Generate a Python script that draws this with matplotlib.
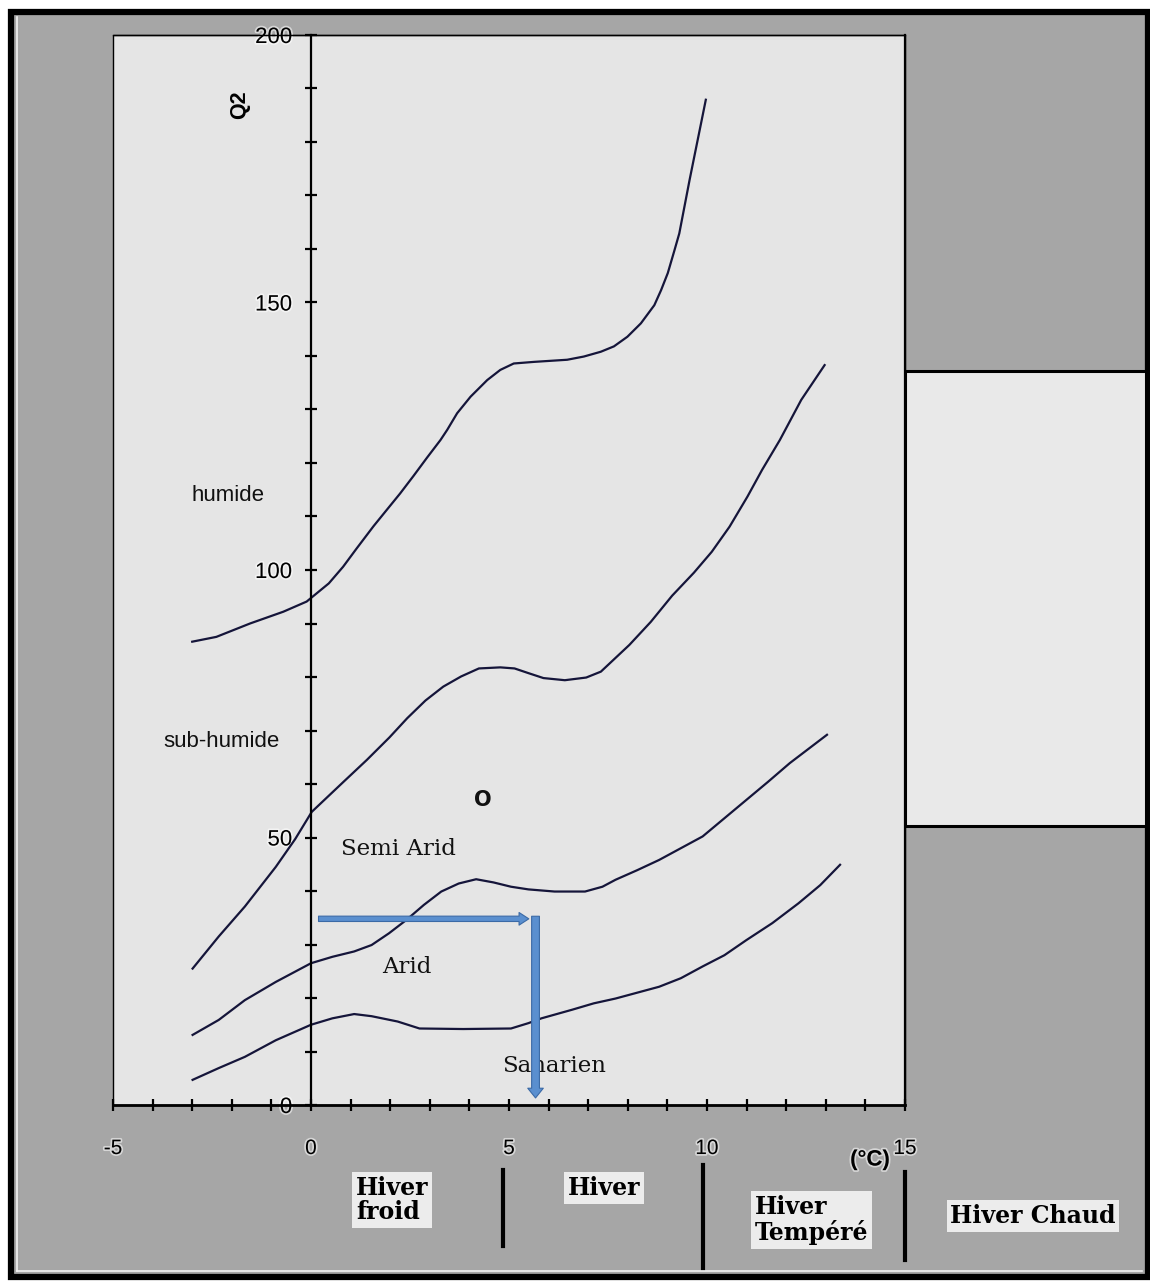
import matplotlib
matplotlib.use("Agg")
import matplotlib.pyplot as plt
from matplotlib.patches import Rectangle, FancyArrowPatch
from matplotlib.lines import Line2D
from matplotlib.ticker import MultipleLocator
import matplotlib.patheffects as pe

W, H = 1150, 1282

# Emberger climagram: pluviothermic quotient Q2 against m (°C)
x_major = [-5, 0, 5, 10, 15]
y_major = [0, 50, 100, 150, 200]

# humide / sub-humide boundary
hum_x = [-3.0, -2.39, -1.54, -0.7, -0.11, 0.45, 0.81, 1.15, 1.58, 1.92, 2.25, 2.59, 2.93, 3.27, 3.44,
         3.69, 4.03, 4.45, 4.78, 5.12, 5.63, 6.47, 6.89, 7.32, 7.65, 7.99, 8.33, 8.67, 8.84, 9.01,
         9.18, 9.3, 9.43, 9.56, 9.68, 9.85, 9.97]
hum_y = [86.6, 87.5, 90.0, 92.2, 94.1, 97.5, 100.6, 104.0, 108.2, 111.3, 114.3, 117.6, 121.0, 124.3, 126.2,
         129.3, 132.4, 135.5, 137.4, 138.6, 138.9, 139.3, 139.9, 140.8, 141.8, 143.6, 146.1, 149.5, 152.3, 155.5,
         159.8, 162.9, 167.9, 172.9, 177.3, 183.5, 187.9]

# sub-humide / semi-arid boundary
sub_x = [-2.99, -2.33, -1.67, -0.89, -0.4, 0.02, 0.82, 1.41, 1.98, 2.43, 2.89, 3.34, 3.79, 4.24, 4.78,
         5.14, 5.5, 5.87, 6.41, 6.95, 7.32, 7.68, 8.04, 8.58, 9.12, 9.67, 10.12, 10.57, 11.02, 11.39,
         11.84, 12.38, 12.97]
sub_y = [25.5, 31.5, 37.1, 44.5, 49.7, 54.8, 60.4, 64.5, 68.7, 72.3, 75.6, 78.2, 80.1, 81.6, 81.8,
         81.6, 80.7, 79.8, 79.4, 79.9, 81.0, 83.5, 86.0, 90.3, 95.2, 99.5, 103.4, 108.1, 113.7, 118.7,
         124.3, 131.8, 138.3]

# semi-arid / arid boundary
semi_x = [-2.99, -2.33, -1.67, -0.89, 0.0, 0.54, 1.09, 1.53, 1.97, 2.41, 2.85, 3.29, 3.73, 4.17, 4.61,
          5.05, 5.49, 6.15, 6.92, 7.36, 7.69, 8.24, 8.79, 9.34, 9.89, 10.44, 10.99, 11.54, 12.09, 13.03]
semi_y = [13.1, 15.9, 19.6, 23.0, 26.5, 27.7, 28.7, 29.9, 32.1, 34.6, 37.4, 39.9, 41.4, 42.2, 41.6,
          40.8, 40.3, 39.9, 39.9, 40.8, 42.1, 43.9, 45.8, 48.0, 50.2, 53.6, 57.0, 60.4, 63.9, 69.2]

# arid / saharien boundary
arid_x = [-2.99, -2.33, -1.67, -0.89, 0.0, 0.54, 1.09, 1.53, 2.19, 2.74, 3.84, 5.05, 5.49, 5.82, 6.59,
          7.14, 7.69, 8.79, 9.34, 9.89, 10.44, 10.99, 11.65, 12.31, 12.86, 13.36]
arid_y = [4.7, 6.9, 9.0, 12.1, 15.0, 16.2, 17.0, 16.6, 15.6, 14.3, 14.2, 14.3, 15.3, 16.2, 17.8,
          19.0, 19.9, 22.1, 23.7, 25.9, 28.0, 30.8, 34.0, 37.7, 41.1, 44.9]

# station position and its reading on the axes
station_m, station_q2 = 4.33, 57.0
reading_q2, reading_m = 34.8, 5.67

zone_names = ["humide", "sub-humide", "Semi Arid", "Arid", "Saharien"]
zone_x = [-2.1, -2.25, 2.2, 2.43, 6.15]
zone_y = [114.0, 68.0, 47.8, 25.8, 7.3]
zone_serif = [False, False, True, True, True]

winter_names = ["Hiver\nfroid", "Hiver", "Hiver\nTempéré", "Hiver Chaud"]


def fx(px):
    return px / W


def fy(py):
    return 1 - py / H


fig = plt.figure(figsize=(W / 100, H / 100), dpi=100, facecolor="white")

# outer frame and grey background
fig.patches.append(Rectangle((fx(10.5), fy(1277)), fx(1148) - fx(10.5), fy(11.5) - fy(1277),
                             transform=fig.transFigure, fc="#a6a6a6", ec="black", lw=4.5, zorder=-10))
fig.add_artist(Line2D([fx(17), fx(17)], [fy(17), fy(1271)], color="#f2f2f2", lw=1.2, zorder=-9))
fig.add_artist(Line2D([fx(17), fx(1142)], [fy(1271), fy(1271)], color="#f2f2f2", lw=1.2, zorder=-9))

# blank panel on the right
fig.patches.append(Rectangle((fx(905), fy(826)), fx(1146) - fx(905), fy(371) - fy(826),
                             transform=fig.transFigure, fc="#e9e9e9", ec="black", lw=2.2, zorder=-5))

ax = fig.add_axes([fx(113), fy(1105), fx(905) - fx(113), fy(35) - fy(1105)])
ax.set_facecolor("#e5e5e5")
ax.set_xlim(-5, 15)
ax.set_ylim(0, 200)

ax.spines["left"].set_position(("data", 0))
ax.spines["left"].set_linewidth(1.6)
ax.spines["bottom"].set_linewidth(2.0)
ax.spines["top"].set_linewidth(1.0)
ax.spines["right"].set_linewidth(1.6)
ax.add_patch(Rectangle((0, 0), 1, 1, transform=ax.transAxes, fill=False, ec="black", lw=1.0, clip_on=False))

ax.xaxis.set_minor_locator(MultipleLocator(1))
ax.yaxis.set_minor_locator(MultipleLocator(10))
ax.set_xticks(x_major)
ax.set_yticks(y_major)
ax.set_xticklabels([str(v) for v in x_major])
ax.set_yticklabels([str(v) for v in y_major])

halo = [pe.withStroke(linewidth=2.5, foreground="white", alpha=0.55)]
ax.tick_params(axis="x", which="both", direction="inout", length=9, width=1.6, pad=20)
ax.tick_params(axis="y", which="both", direction="inout", length=9, width=1.6, pad=9)
for lab in ax.get_xticklabels():
    lab.set_fontfamily("Liberation Sans")
    lab.set_fontsize(15)
    lab.set_path_effects(halo)
for lab in ax.get_yticklabels():
    lab.set_fontfamily("Liberation Sans")
    lab.set_fontsize(16)
    lab.set_path_effects(halo)

line_kw = dict(color="#15153a", lw=1.6, solid_joinstyle="round")
ax.plot(hum_x, hum_y, **line_kw)
ax.plot(sub_x, sub_y, **line_kw)
ax.plot(semi_x, semi_y, **line_kw)
ax.plot(arid_x, arid_y, **line_kw)

for name, x, y, serif in zip(zone_names, zone_x, zone_y, zone_serif):
    if serif:
        ax.text(x, y, name, ha="center", va="center", fontsize=16.5, family="DejaVu Serif", color="#111111")
    else:
        ax.text(x, y, name, ha="center", va="center", fontsize=16, family="Liberation Sans", color="#111111")

ax.text(station_m, station_q2, "O", ha="center", va="center", fontsize=15, fontweight="bold",
        family="DejaVu Sans", color="#111111")

ax.text(-1.8, 187, "Q2", rotation=90, ha="center", va="center", fontsize=15.5, fontweight="bold",
        family="Liberation Sans")

# reading of the station: Q2 across to the curve, then down to m
arrow_fc, arrow_ec = "#5a8fcf", "#3b6aa6"
ax.add_patch(FancyArrowPatch((0.12, reading_q2), (reading_m - 0.1, reading_q2),
                             arrowstyle="simple,head_width=1.3,head_length=1.0,tail_width=0.55",
                             mutation_scale=7, fc=arrow_fc, ec=arrow_ec, lw=0.8, zorder=5))
ax.add_patch(FancyArrowPatch((reading_m, reading_q2 + 1.0), (reading_m, 0.8),
                             arrowstyle="simple,head_width=1.6,head_length=1.0,tail_width=0.8",
                             mutation_scale=7, fc=arrow_fc, ec=arrow_ec, lw=0.8, zorder=5))

fig.text(fx(870), fy(1160), "(°C)", ha="center", va="center", fontsize=16, fontweight="bold",
         family="Liberation Sans", path_effects=halo)

# winter classes under the temperature axis
box = dict(boxstyle="square,pad=0.15", fc="#ececec", ec="none")
win_kw = dict(family="DejaVu Serif", fontweight="bold", fontsize=17, color="black", linespacing=1.05, bbox=box)
fig.text(fx(356), fy(1200), winter_names[0], ha="left", va="center", **win_kw)
fig.text(fx(604), fy(1188), winter_names[1], ha="center", va="center", **win_kw)
fig.text(fx(755), fy(1220), winter_names[2], ha="left", va="center", **win_kw)
fig.text(fx(1033), fy(1216), winter_names[3], ha="center", va="center", **win_kw)

for xp, y0, y1 in [(503, 1170, 1246), (703, 1165, 1268), (905, 1172, 1260)]:
    fig.add_artist(Line2D([fx(xp), fx(xp)], [fy(y0), fy(y1)], color="black", lw=3.0))

fig.savefig("out.png", dpi=100, facecolor=fig.get_facecolor())
